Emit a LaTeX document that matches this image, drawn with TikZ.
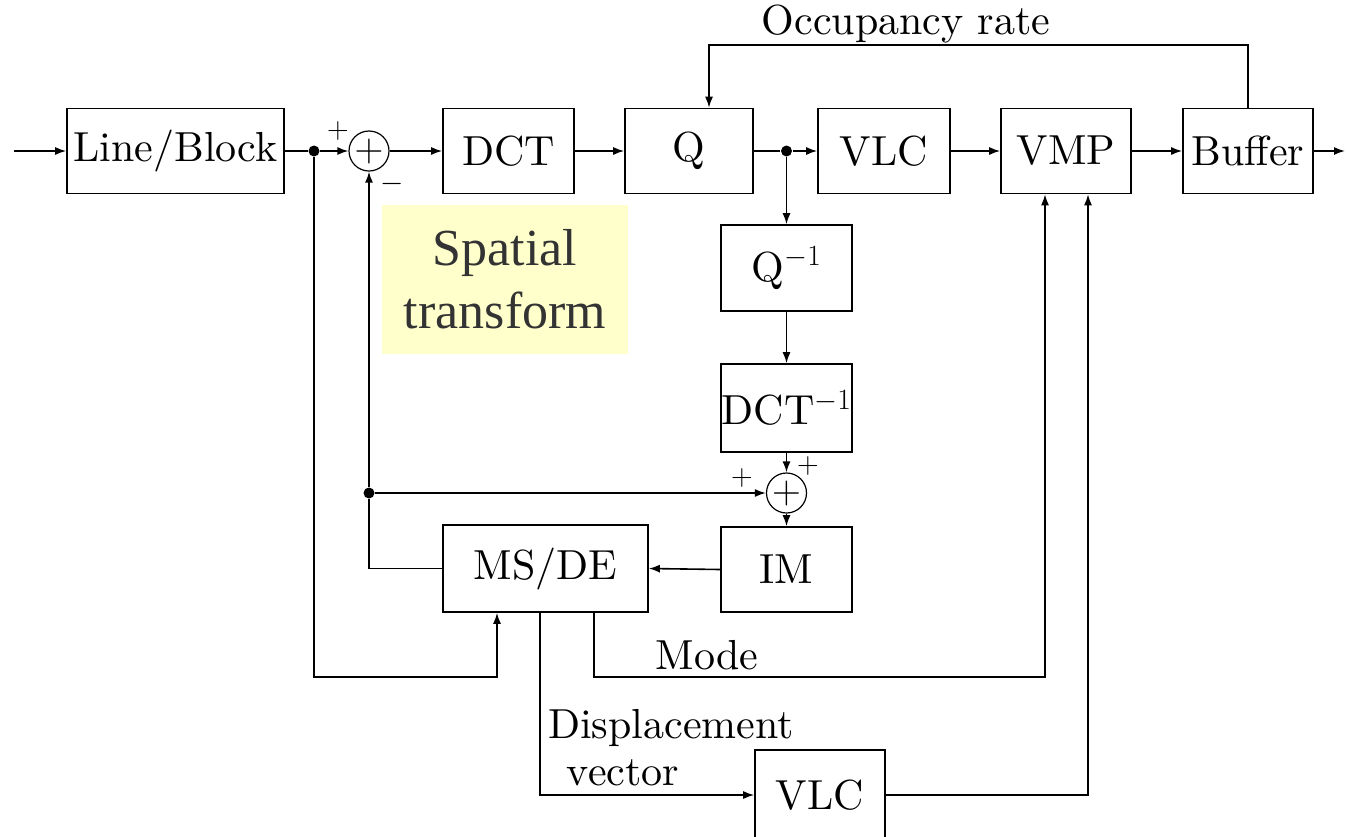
\RequirePackage{fix-cm}
\documentclass[tikz,border=0pt]{standalone}
\usepackage{fontspec}
\usepackage{xcolor}
\usepackage{tikz}
\usetikzlibrary{arrows.meta, positioning, calc}

\newfontfamily\slidefont{Liberation Serif}
\newfontfamily\blkfont{lmroman10-regular}[Extension=.otf]
\definecolor{noteyellow}{RGB}{255,255,204}

\begin{document}
\begin{tikzpicture}[
  x=1pt, y=-1pt,
  line width=1.6pt,
  >={Latex[length=11pt,width=8pt]},
  blk/.style={draw, inner sep=0pt, minimum height=85pt, font=\blkfont\fontsize{42}{50}\selectfont},
  summ/.style={draw, circle, line width=1.2pt, minimum size=40pt, inner sep=0pt, font=\fontsize{40}{40}\selectfont},
  junc/.style={circle, fill, inner sep=0pt, minimum size=11pt},
  lbl/.style={inner sep=0pt, font=\blkfont\fontsize{42}{50}\selectfont},
  sgn/.style={inner sep=0pt, font=\fontsize{30}{30}\selectfont},
]
  \useasboundingbox (0,0) rectangle (1346,836);

  % ── Forward path ──
  \node[blk, minimum width=217pt] (lb) at (175.5,151) {Line/Block};
  \node[summ] (sumA) at (369,151) {$+$};
  \node[blk, minimum width=131pt] (dct) at (508.5,151) {DCT};
  \node[blk, minimum width=128pt] (q) at (689,151) {Q};
  \node[blk, minimum width=132pt] (vlc) at (884,151) {VLC};
  \node[blk, minimum width=130pt] (vmp) at (1066,151) {VMP};
  \node[blk, minimum width=130pt] (buf) at (1248,151) {Buffer};

  % ── Reconstruction loop ──
  \node[blk, minimum width=131pt, minimum height=86pt] (qi) at (786.5,268) {Q$^{-1}$};
  \node[blk, minimum width=131pt, minimum height=88pt] (dcti) at (786.5,408) {DCT$^{-1}$};
  \node[summ] (sumB) at (786.5,493) {$+$};
  \node[blk, minimum width=131pt] (im) at (786.5,569.5) {IM};
  \node[blk, minimum width=205pt, minimum height=87pt] (msde) at (545.5,568.5) {MS/DE};
  \node[blk, minimum width=130pt, minimum height=90pt] (vlcB) at (820,795) {VLC};

  % ── Junctions and free ends ──
  \node[junc] (jA) at (314,151) {};
  \node[junc] (jB) at (786.5,151) {};
  \node[junc] (jC) at (369,493) {};
  \coordinate (in) at (14,151);
  \coordinate (out) at (1345,151);
  \coordinate (occ) at (0,45);
  \coordinate (busA) at (0,677);

  % ── Labels ──
  \node[lbl, anchor=base] (occlbl) at (906,34) {Occupancy rate};
  \node[lbl] (modelbl) at (707,655) {Mode};
  \node[lbl] (displbl) at (671,728) {Displacement};
  \node[lbl] (veclbl) at (623,773) {vector};
  \node[sgn] (sA1) at (338,131) {$+$};
  \node[sgn] (sA2) at (392,184) {$-$};
  \node[sgn] (sB1) at (742,478) {$+$};
  \node[sgn] (sB2) at (808,466) {$+$};
  \node[fill=noteyellow, minimum width=246pt, minimum height=149pt, align=center,
        text=black!80, font=\slidefont\fontsize{52}{63}\selectfont] (spat) at (505,279.5)
        {Spatial\\transform};

  % ── Connectors ──
  \draw[->] (in) -- (lb.west);
  \draw (lb.east) -- (jA);
  \draw[->] (jA) -- (sumA.west);
  \draw[->] (sumA.east) -- (dct.west);
  \draw[->] (dct.east) -- (q.west);
  \draw (q.east) -- (jB);
  \draw[->] (jB) -- (vlc.west);
  \draw[->] (vlc.east) -- (vmp.west);
  \draw[->] (vmp.east) -- (buf.west);
  \draw[->] (buf.east) -- (out);
  \draw[->] (buf.north) -- (buf.north |- occ) -| ([xshift=20pt]q.north);

  \draw[->] (jB) -- (qi.north);
  \draw[->] (qi.south) -- (dcti.north);
  \draw[->] (dcti.south) -- (sumB.north);
  \draw[->] (sumB.south) -- (im.north);
  \draw[->] (im.west) -- (msde.east);
  \draw (msde.west) -| (jC);
  \draw[->] (jC) -- (sumA.south);
  \draw[->] (jC) -- (sumB.west);

  \draw[->] (jA) -- (jA |- busA) -| ([xshift=-48.5pt]msde.south);
  \draw[->] ([xshift=48.5pt]msde.south) -- ([xshift=48.5pt]msde.south |- busA) -| ([xshift=-21pt]vmp.south);
  \draw[->] ([xshift=-5.5pt]msde.south) |- (vlcB.west);
  \draw[->] (vlcB.east) -| ([xshift=22pt]vmp.south);

\end{tikzpicture}
\end{document}
